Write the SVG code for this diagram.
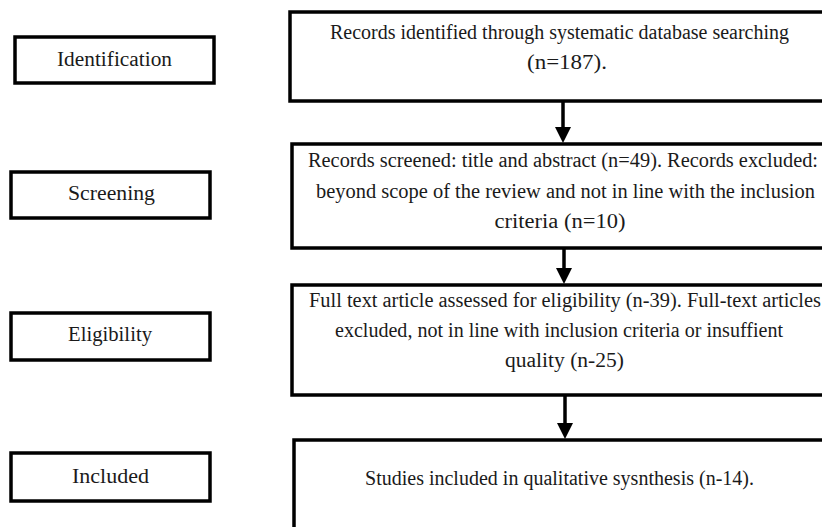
<svg xmlns="http://www.w3.org/2000/svg" width="822" height="527" viewBox="0 0 822 527">
<defs>
<style>
.box{fill:#fff;stroke:#000;stroke-width:3.5}
.t{font-family:"Liberation Serif","DejaVu Serif",serif;font-size:20px;fill:#1a1a1a;text-anchor:middle}
.conn{stroke:#000;stroke-width:3.5;fill:none}
</style>
<marker id="ah" viewBox="0 0 16 16" refX="4" refY="8" markerWidth="16" markerHeight="16" markerUnits="userSpaceOnUse" orient="auto">
<path d="M0,0 L16,8 L0,16 Z" fill="#000"/>
</marker>
</defs>
<rect width="822" height="527" fill="#fff"/>
<g id="stage-identification">
<rect class="box" x="15" y="37" width="199" height="46"/>
<text class="t" x="114.5" y="66" textLength="115" lengthAdjust="spacingAndGlyphs">Identification</text>
</g>
<g id="stage-screening">
<rect class="box" x="11" y="172" width="199" height="46"/>
<text class="t" x="111.5" y="200" textLength="87" lengthAdjust="spacingAndGlyphs">Screening</text>
</g>
<g id="stage-eligibility">
<rect class="box" x="11" y="313" width="199" height="47"/>
<text class="t" x="110" y="341" textLength="84" lengthAdjust="spacingAndGlyphs">Eligibility</text>
</g>
<g id="stage-included">
<rect class="box" x="11" y="453" width="199" height="48"/>
<text class="t" x="110.5" y="483" textLength="77" lengthAdjust="spacingAndGlyphs">Included</text>
</g>
<g id="box-identified">
<rect class="box" x="290" y="12" width="540" height="89"/>
<text class="t" x="559.5" y="39" textLength="459" lengthAdjust="spacingAndGlyphs">Records identified through systematic database searching</text>
<text class="t" x="567" y="69" textLength="80" lengthAdjust="spacingAndGlyphs">(n=187).</text>
</g>
<g id="box-screened">
<rect class="box" x="292" y="144" width="540" height="104"/>
<text class="t" x="563" y="167" textLength="510" lengthAdjust="spacingAndGlyphs">Records screened: title and abstract (n=49). Records excluded:</text>
<text class="t" x="565.5" y="198" textLength="499" lengthAdjust="spacingAndGlyphs">beyond scope of the review and not in line with the inclusion</text>
<text class="t" x="560" y="228" textLength="131" lengthAdjust="spacingAndGlyphs">criteria (n=10)</text>
</g>
<g id="box-eligibility">
<rect class="box" x="292" y="285" width="540" height="110"/>
<text class="t" x="565" y="307" textLength="512" lengthAdjust="spacingAndGlyphs">Full text article assessed for eligibility (n-39). Full-text articles</text>
<text class="t" x="559" y="337" textLength="448" lengthAdjust="spacingAndGlyphs">excluded, not in line with inclusion criteria or insuffient</text>
<text class="t" x="564.5" y="367" textLength="119" lengthAdjust="spacingAndGlyphs">quality (n-25)</text>
</g>
<g id="box-included">
<rect class="box" x="294" y="440" width="540" height="100"/>
<text class="t" x="559.5" y="485" textLength="389" lengthAdjust="spacingAndGlyphs">Studies included in qualitative sysnthesis (n-14).</text>
</g>
<g id="connectors">
<line class="conn" x1="563" y1="101" x2="563" y2="131" marker-end="url(#ah)"/>
<line class="conn" x1="564" y1="248" x2="564" y2="272" marker-end="url(#ah)"/>
<line class="conn" x1="565" y1="395" x2="565" y2="427" marker-end="url(#ah)"/>
</g>
</svg>
